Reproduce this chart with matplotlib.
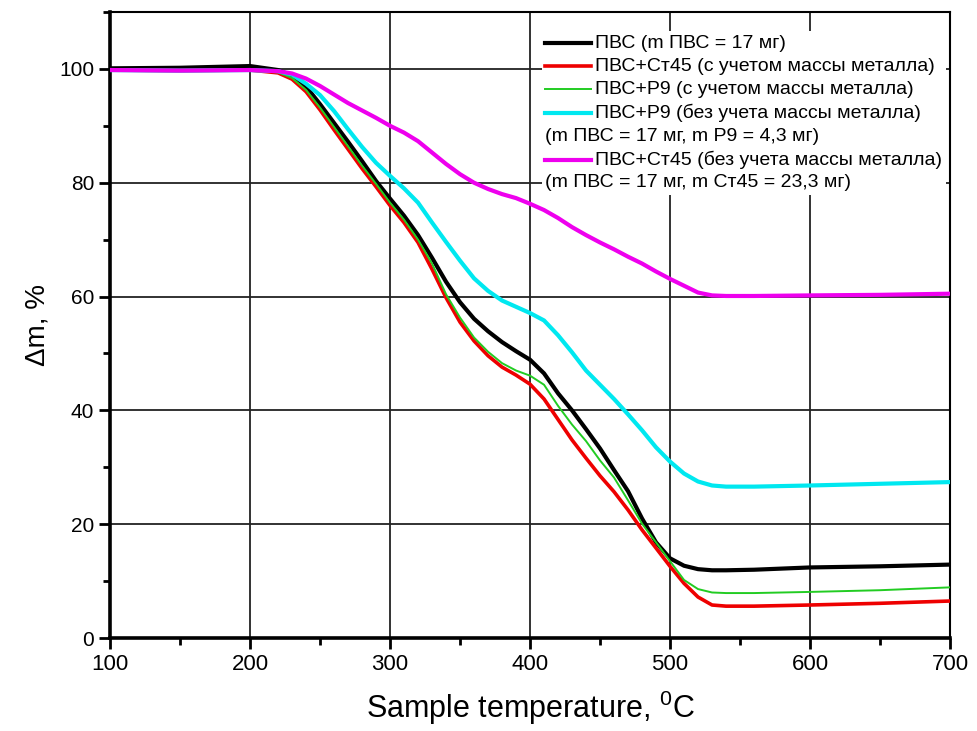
import matplotlib
matplotlib.use("Agg")
import matplotlib.pyplot as plt
from matplotlib.lines import Line2D
from matplotlib.offsetbox import AnchoredOffsetbox, VPacker, HPacker, TextArea, DrawingArea
from matplotlib.ticker import MultipleLocator

plt.rcParams['font.family'] = ['Liberation Sans', 'DejaVu Sans']
plt.rcParams['mathtext.fontset'] = 'custom'
plt.rcParams['mathtext.rm'] = 'Liberation Sans'

# temperature, C
temp = [100, 150, 200, 220, 230, 240, 250, 260, 270, 280, 290, 300, 310, 320, 330,
        340, 350, 360, 370, 380, 390, 400, 410, 420, 430, 440, 450, 460, 470, 480,
        490, 500, 510, 520, 530, 540, 560, 600, 650, 700]

# mass change, %
pvs = [100.1, 100.2, 100.5, 99.8, 98.8, 96.9, 93.8, 90.5, 87.2, 83.8, 80.3, 77.2, 74.2, 70.8, 66.8,
       62.6, 59.0, 56.1, 53.9, 52.0, 50.4, 48.9, 46.5, 43.0, 40.0, 36.7, 33.3, 29.5, 25.8, 21.0,
       16.8, 14.0, 12.7, 12.1, 11.9, 11.9, 12.0, 12.4, 12.6, 12.9]
st45_net = [99.8, 99.7, 99.8, 99.3, 98.2, 96.0, 92.8, 89.3, 85.9, 82.5, 79.3, 76.0, 73.0, 69.5, 64.8,
            59.8, 55.5, 52.2, 49.6, 47.6, 46.2, 44.6, 42.0, 38.4, 34.8, 31.6, 28.5, 25.7, 22.5, 19.0,
            15.8, 12.6, 9.6, 7.2, 5.8, 5.6, 5.6, 5.8, 6.1, 6.5]
p9_net = [99.7, 99.7, 99.9, 99.4, 98.4, 96.3, 93.2, 89.8, 86.4, 83.0, 79.8, 76.5, 73.5, 70.0, 65.8,
          60.4, 56.3, 52.8, 50.3, 48.3, 47.0, 46.1, 44.5, 40.8, 37.5, 34.6, 31.2, 28.2, 24.2, 20.1,
          16.8, 13.5, 10.2, 8.6, 8.0, 7.9, 7.9, 8.1, 8.4, 8.9]
p9_gross = [99.8, 99.7, 99.8, 99.6, 99.0, 97.4, 95.4, 92.6, 89.4, 86.3, 83.5, 81.2, 79.0, 76.5, 73.0,
            69.6, 66.3, 63.2, 61.0, 59.3, 58.2, 57.1, 55.8, 53.2, 50.2, 47.0, 44.5, 42.0, 39.3, 36.5,
            33.5, 31.0, 28.9, 27.5, 26.8, 26.6, 26.6, 26.8, 27.1, 27.4]
st45_gross = [99.8, 99.7, 99.8, 99.6, 99.2, 98.3, 97.0, 95.5, 94.0, 92.7, 91.4, 90.0, 88.8, 87.3, 85.3,
              83.3, 81.5, 80.0, 78.9, 78.0, 77.3, 76.3, 75.2, 73.8, 72.2, 70.8, 69.5, 68.3, 67.0, 65.8,
              64.4, 63.1, 61.9, 60.7, 60.2, 60.1, 60.1, 60.2, 60.3, 60.5]

series = [
    (pvs, 'black', 3.0, 'ПВС (m ПВС = 17 мг)', None),
    (st45_net, '#ee0000', 2.6, 'ПВС+Ст45 (с учетом массы металла)', None),
    (p9_net, '#22cc22', 1.4, 'ПВС+Р9 (с учетом массы металла)', None),
    (p9_gross, '#00e8f0', 3.0, 'ПВС+Р9 (без учета массы металла)', '(m ПВС = 17 мг, m Р9 = 4,3 мг)'),
    (st45_gross, '#ee00ee', 3.0, 'ПВС+Ст45 (без учета массы металла)', '(m ПВС = 17 мг, m Ст45 = 23,3 мг)'),
]

fig = plt.figure(figsize=(9.78, 7.31), dpi=100)
ax = fig.add_axes([0.1125, 0.1272, 0.8589, 0.8564])

for y, c, lw, lab, note in series:
    ax.plot(temp, y, color=c, lw=lw, zorder=3, solid_joinstyle='round')

ax.set_xlim(100, 700)
ax.set_ylim(0, 110)
ax.xaxis.set_major_locator(MultipleLocator(100))
ax.xaxis.set_minor_locator(MultipleLocator(50))
ax.yaxis.set_major_locator(MultipleLocator(20))
ax.yaxis.set_minor_locator(MultipleLocator(10))
ax.grid(True, which='major', color='#222222', lw=1.3)
ax.tick_params(which='major', direction='out', length=8, width=2, labelsize=16)
ax.tick_params(which='minor', direction='out', length=5, width=2)
ax.tick_params(axis='y', labelsize=15)
for s in ['left', 'bottom']:
    ax.spines[s].set_linewidth(2.6)
for s in ['top', 'right']:
    ax.spines[s].set_linewidth(1.5)

ax.set_xlabel(r'Sample temperature, $^{\mathrm{0}}$C', fontsize=22, labelpad=10)
ax.set_ylabel('Δm, %', fontsize=20, labelpad=6)

# legend box
rows = []
fs = 14
for y, c, lw, lab, note in series:
    da = DrawingArea(33, 10, 0, 0)
    da.add_artist(Line2D([0, 33], [5, 5], color=c, lw=lw))
    rows.append(HPacker(children=[da, TextArea(lab, textprops=dict(size=fs))],
                        align='center', pad=0, sep=3))
    if note:
        rows.append(TextArea(note, textprops=dict(size=fs)))
box = VPacker(children=rows, align='left', pad=0, sep=4.2)
anch = AnchoredOffsetbox(loc='upper left', child=box, pad=0.25, borderpad=0,
                         frameon=True, bbox_to_anchor=(0.514, 0.969),
                         bbox_transform=ax.transAxes)
anch.patch.set_facecolor('white')
anch.patch.set_edgecolor('none')
anch.set_zorder(2)
ax.add_artist(anch)

fig.savefig('out.png', dpi=100)
